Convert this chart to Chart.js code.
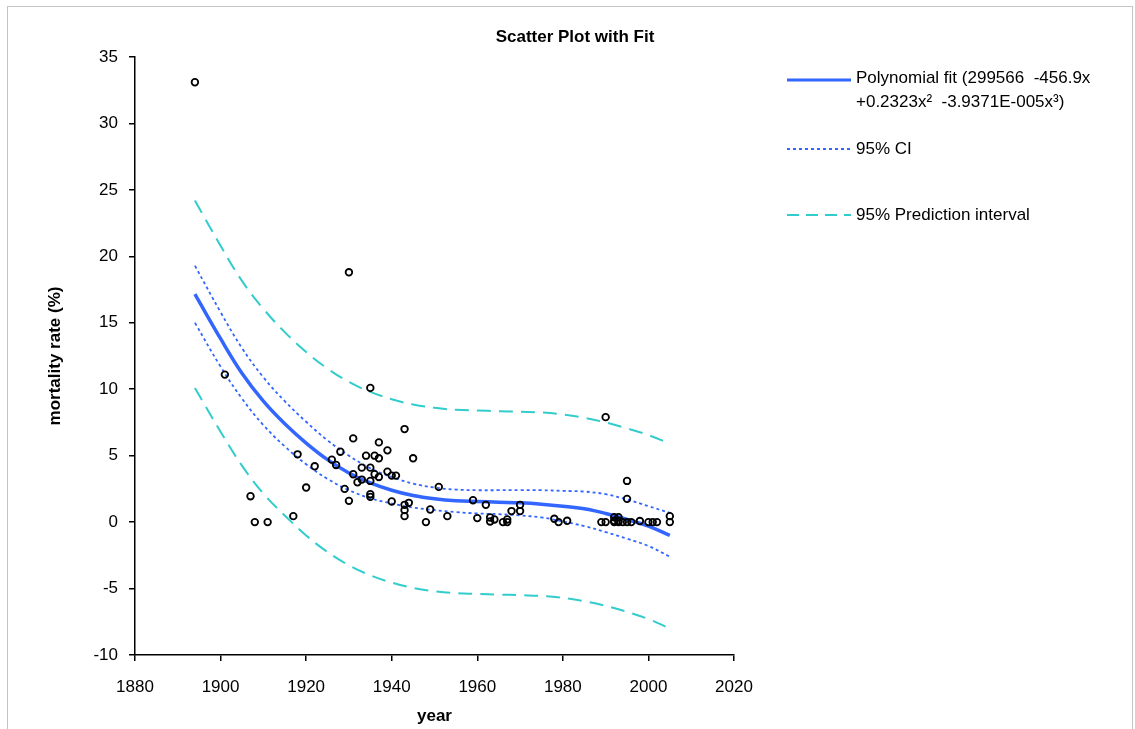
<!DOCTYPE html>
<html>
<head>
<meta charset="utf-8">
<script src="https://cdn.jsdelivr.net/npm/chart.js@4.4.1/dist/chart.umd.min.js"></script>
<style>
  body { margin: 0; background: #fff; font-family: "Liberation Sans", Arial, sans-serif; color: #000; }
  #wrap { position: relative; width: 1135px; height: 729px; overflow: hidden; }
  #frame { position: absolute; left: 7px; top: 6px; width: 1126px; height: 760px; border: 1px solid #c4c4c4; box-sizing: border-box; }
  #chart { position: absolute; left: 0; top: 0; }
  #title { position: absolute; top: 27px; left: 490px; width: 170px; text-align: center; font-weight: bold; font-size: 17px; white-space: nowrap; }
  .sample { position: absolute; left: 787px; width: 64px; height: 10px; }
  .label { position: absolute; left: 856px; font-size: 17px; line-height: 24px; white-space: nowrap; }
</style>
</head>
<body>
<div id="wrap">
  <div id="frame"></div>
  <canvas id="chart" width="1135" height="729"></canvas>
  <div id="title">Scatter Plot with Fit</div>

  <svg class="sample" style="top:75px"><line x1="0" y1="5" x2="64" y2="5" stroke="#3366ff" stroke-width="3"/></svg>
  <div class="label" style="top:66px">Polynomial fit (299566&nbsp; -456.9x<br>+0.2323x²&nbsp; -3.9371E-005x³)</div>

  <svg class="sample" style="top:144px"><line x1="0" y1="5" x2="64" y2="5" stroke="#3366ff" stroke-width="2" stroke-dasharray="3,3"/></svg>
  <div class="label" style="top:137px">95% CI</div>

  <svg class="sample" style="top:210px"><line x1="0" y1="5" x2="64" y2="5" stroke="#33cccc" stroke-width="2" stroke-dasharray="12,7"/></svg>
  <div class="label" style="top:203px">95% Prediction interval</div>
</div>

<script>
// observed points
const pointYears = [1894, 1901, 1907, 1908, 1911, 1917, 1918, 1920, 1922, 1926, 1927, 1928, 1929, 1930, 1930,
  1931, 1931, 1932, 1933, 1933, 1934, 1935, 1935, 1935, 1935, 1935, 1936, 1936, 1937, 1937, 1937,
  1939, 1939, 1940, 1940, 1941, 1943, 1943, 1943, 1943, 1944, 1945, 1948, 1949, 1951, 1953,
  1959, 1960, 1962, 1963, 1963, 1964, 1966, 1967, 1967, 1968, 1970, 1970, 1978, 1979, 1981,
  1989, 1990, 1990, 1992, 1992, 1992, 1993, 1993, 1993, 1994, 1995, 1995, 1995, 1996, 1998,
  2000, 2001, 2002, 2005, 2005];
const pointRates = [33.1, 11.1, 1.95, 0, 0, 0.45, 5.1, 2.6, 4.2, 4.7, 4.3, 5.3, 2.5, 18.8, 1.6,
  6.3, 3.6, 3.0, 4.1, 3.2, 5.0, 10.1, 4.1, 3.1, 2.1, 1.9, 5.0, 3.6, 6.0, 4.8, 3.4,
  5.4, 3.8, 3.5, 1.55, 3.5, 7.0, 1.3, 0.9, 0.45, 1.45, 4.8, 0, 0.95, 2.65, 0.45,
  1.65, 0.3, 1.3, 0.35, 0.05, 0.2, 0, 0.2, 0, 0.83, 1.3, 0.83, 0.25, 0, 0.1,
  0, 7.9, 0, 0.37, 0.1, 0, 0.37, 0.1, 0, 0, 3.1, 1.75, 0, 0, 0.08,
  0, 0, 0, 0.45, 0];

// fitted curve and bands
const curveYears = [1894, 1900, 1905, 1910, 1915, 1920, 1925, 1930, 1935, 1940, 1945, 1950,
  1955, 1960, 1965, 1970, 1975, 1980, 1985, 1990, 1995, 2000, 2005];
const fitRates = [17.15, 13.8, 11.2, 9.1, 7.4, 5.95, 4.7, 3.7, 2.95, 2.4, 2.0, 1.75,
  1.6, 1.55, 1.5, 1.45, 1.35, 1.2, 1.0, 0.65, 0.2, -0.3, -1.0];
const ciUpper = [19.3, 15.8, 13.1, 10.9, 9.1, 7.55, 6.15, 5.0, 4.05, 3.4, 2.9, 2.6,
  2.45, 2.4, 2.4, 2.4, 2.4, 2.35, 2.3, 2.1, 1.7, 1.2, 0.7];
const ciLower = [15.0, 11.7, 9.3, 7.3, 5.7, 4.35, 3.25, 2.4, 1.8, 1.4, 1.1, 0.9,
  0.75, 0.65, 0.6, 0.5, 0.35, 0.05, -0.3, -0.75, -1.25, -1.8, -2.6];
const piUpper = [24.2, 20.8, 18.15, 16.05, 14.3, 12.8, 11.55, 10.55, 9.8, 9.25, 8.85, 8.6,
  8.45, 8.4, 8.35, 8.3, 8.25, 8.1, 7.85, 7.5, 7.05, 6.55, 5.9];
const piLower = [10.1, 6.8, 4.25, 2.15, 0.5, -1.0, -2.25, -3.25, -4.0, -4.55, -4.95, -5.2,
  -5.35, -5.4, -5.45, -5.5, -5.55, -5.7, -5.95, -6.3, -6.75, -7.3, -8.0];

const xTicks = [1880, 1900, 1920, 1940, 1960, 1980, 2000, 2020];

const toXY = (xs, ys) => xs.map((x, i) => ({ x: x, y: ys[i] }));

function curve(label, ys, color, width, dash) {
  return {
    label: label,
    data: toXY(curveYears, ys),
    showLine: true,
    borderColor: color,
    borderWidth: width,
    borderDash: dash,
    pointRadius: 0,
    tension: 0.4,
    fill: false
  };
}

const ctx = document.getElementById('chart').getContext('2d');
new Chart(ctx, {
  type: 'scatter',
  data: {
    datasets: [
      {
        label: 'data',
        data: toXY(pointYears, pointRates),
        pointStyle: 'circle',
        pointRadius: 3.3,
        borderWidth: 1.8,
        borderColor: '#000',
        backgroundColor: 'rgba(255,255,255,0)'
      },
      curve('Polynomial fit', fitRates, '#3366ff', 3.5, []),
      curve('95% CI upper', ciUpper, '#3366ff', 1.8, [3, 3]),
      curve('95% CI lower', ciLower, '#3366ff', 1.8, [3, 3]),
      curve('95% PI upper', piUpper, '#33cccc', 2, [14, 8]),
      curve('95% PI lower', piLower, '#33cccc', 2, [14, 8])
    ]
  },
  options: {
    responsive: false,
    animation: false,
    layout: { padding: { left: 0, right: 401, top: 57, bottom: 0 } },
    plugins: { legend: { display: false }, tooltip: { enabled: false } },
    scales: {
      x: {
        type: 'linear',
        min: 1880,
        max: 2020,
        afterBuildTicks: s => { s.ticks = xTicks.map(v => ({ value: v })); },
        afterFit: s => { s.height = 74; },
        ticks: { color: '#000', font: { size: 17 }, padding: 16, callback: v => String(v) },
        grid: { drawOnChartArea: false, color: '#000', tickLength: 6, lineWidth: 1.5 },
        border: { color: '#000', width: 1.5 },
        title: { display: true, text: 'year', color: '#000', font: { size: 17, weight: 'bold' }, padding: { top: 2, bottom: 2 } }
      },
      y: {
        min: -10,
        max: 35,
        afterFit: s => { s.width = 135; },
        ticks: { stepSize: 5, color: '#000', font: { size: 17 }, padding: 11 },
        grid: { drawOnChartArea: false, color: '#000', tickLength: 6, lineWidth: 1.5 },
        border: { color: '#000', width: 1.5 },
        title: { display: true, text: 'mortality rate (%)', color: '#000', font: { size: 17, weight: 'bold' }, padding: { top: 45, bottom: 0 } }
      }
    }
  }
});
</script>
</body>
</html>
